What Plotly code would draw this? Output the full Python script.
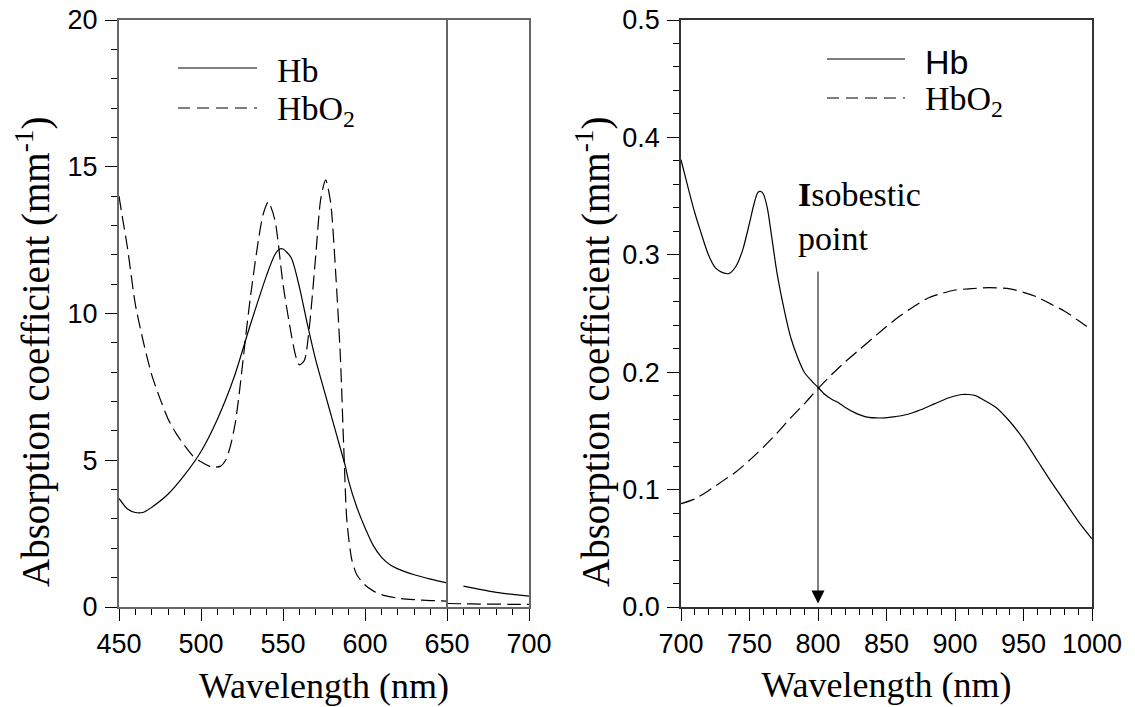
import plotly.graph_objects as go

# --- data ----------------------------------------------------------------
# left panel, visible range (solid Hb breaks at 650 nm)
hb_vis_nm = [450, 455, 460, 465, 470, 480, 490, 500, 510, 520, 530, 540, 545, 548,
             550, 555, 560, 565, 570, 575, 580, 585, 588, 590, 595, 600, 605, 610,
             615, 620, 630, 640, 650]
hb_vis = [3.7, 3.35, 3.22, 3.23, 3.4, 3.85, 4.5, 5.3, 6.4, 7.8, 9.6, 11.3, 12.0, 12.2,
          12.2, 11.9, 10.9, 9.6, 8.4, 7.4, 6.4, 5.4, 4.8, 4.3, 3.4, 2.7, 2.1, 1.7,
          1.45, 1.3, 1.1, 0.95, 0.82]
hb_red_nm = [660, 670, 680, 690, 700]
hb_red = [0.71, 0.6, 0.5, 0.43, 0.37]

hbo2_vis_nm = [450, 452, 455, 460, 465, 470, 475, 480, 485, 490, 495, 500, 505, 508,
               512, 515, 518, 521, 524, 527, 530, 535, 538, 541, 545, 550, 555, 558,
               560, 563, 566, 570, 573, 576, 579, 582, 585, 587, 589, 592, 595, 600,
               605, 610, 620, 630, 640, 650]
hbo2_vis = [14.0, 13.3, 12.3, 10.3, 9.0, 7.9, 7.1, 6.4, 5.9, 5.5, 5.15, 4.95, 4.8, 4.76,
            4.8, 5.0, 5.5, 6.3, 7.6, 9.1, 10.5, 12.5, 13.4, 13.8, 13.2, 11.0, 9.3, 8.5,
            8.25, 8.4, 9.5, 12.0, 13.9, 14.55, 13.8, 11.5, 8.5, 5.5, 2.9, 1.6, 1.1, 0.75,
            0.55, 0.42, 0.3, 0.25, 0.22, 0.2]
hbo2_red_nm = [650, 660, 670, 680, 690, 700]
hbo2_red = [0.12, 0.11, 0.1, 0.1, 0.09, 0.09]

# right panel, near infrared
hb_nir_nm = [700, 705, 710, 714, 720, 725, 730, 735, 740, 745, 750, 753, 756, 758, 760,
             763, 766, 770, 775, 780, 785, 790, 795, 800, 805, 810, 815, 820, 826, 835,
             845, 855, 865, 875, 885, 895, 905, 910, 915, 920, 930, 940, 950, 960, 970,
             980, 990, 1000]
hb_nir = [0.381, 0.358, 0.336, 0.321, 0.300, 0.289, 0.285, 0.284, 0.29, 0.304, 0.327,
          0.342, 0.353, 0.354, 0.352, 0.34, 0.317, 0.285, 0.255, 0.23, 0.213, 0.2, 0.193,
          0.187, 0.181, 0.177, 0.174, 0.17, 0.166, 0.162, 0.161, 0.162, 0.164, 0.168,
          0.173, 0.178, 0.181, 0.181, 0.18, 0.177, 0.17, 0.158, 0.143, 0.125, 0.107,
          0.09, 0.073, 0.058]

hbo2_nir_nm = [700, 710, 720, 730, 740, 750, 760, 770, 780, 790, 800, 810, 820, 830, 840,
               850, 860, 870, 880, 890, 900, 910, 925, 940, 950, 960, 970, 980, 990, 1000]
hbo2_nir = [0.088, 0.092, 0.099, 0.107, 0.115, 0.125, 0.136, 0.148, 0.161, 0.173, 0.186,
            0.198, 0.209, 0.219, 0.229, 0.239, 0.248, 0.256, 0.263, 0.267, 0.27, 0.271,
            0.272, 0.271, 0.268, 0.264, 0.258, 0.252, 0.244, 0.236]

isobestic_nm = 800
arrow_top = 0.287

SERIF = "Liberation Serif"
SANS = "Liberation Sans"
DASH = "14px,6px"

W, H = 1135, 707


def px(p):
    return p / W


def py(p):
    return (607 - p) / 587


fig = go.Figure()


def curve(x, y, dash, xa, ya):
    fig.add_trace(go.Scatter(
        x=x, y=y, mode="lines", xaxis=xa, yaxis=ya, showlegend=False,
        line=dict(color="black", width=1.2, dash=dash, shape="spline", smoothing=0.7),
    ))


curve(hb_vis_nm, hb_vis, "solid", "x", "y")
curve(hb_red_nm, hb_red, "solid", "x", "y")
curve(hbo2_vis_nm, hbo2_vis, DASH, "x", "y")
curve(hbo2_red_nm, hbo2_red, DASH, "x", "y")
curve(hb_nir_nm, hb_nir, "solid", "x2", "y2")
curve(hbo2_nir_nm, hbo2_nir, DASH, "x2", "y2")

axis_common = dict(
    showgrid=False, zeroline=False, showline=True, mirror=True, automargin=False,
    ticks="outside", ticklen=12, tickwidth=1, tickcolor="black",
    tickfont=dict(family=SANS, size=27, color="black"),
)
xtitle = dict(text="Wavelength (nm)", standoff=14,
              font=dict(family=SERIF, size=36, color="black"))

fig.update_layout(
    width=W, height=H,
    margin=dict(l=0, r=0, t=20, b=100),
    plot_bgcolor="white", paper_bgcolor="white",
    xaxis=dict(axis_common, domain=[px(119), px(529)], range=[450, 700],
               dtick=50, linecolor="#666666", linewidth=2, ticklabelstandoff=0,
               minor=dict(dtick=10, ticks="outside", ticklen=6, tickcolor="black"),
               title=xtitle),
    yaxis=dict(axis_common, anchor="x", range=[0, 20], dtick=5,
               linecolor="#666666", linewidth=2, ticklabelstandoff=2,
               minor=dict(dtick=1, ticks="outside", ticklen=6, tickcolor="black")),
    xaxis2=dict(axis_common, domain=[px(681), px(1092)], range=[700, 1000],
                anchor="y2", dtick=50, linecolor="#333333", linewidth=1.5,
                ticklabelstandoff=0,
                minor=dict(dtick=10, ticks="outside", ticklen=6, tickcolor="black"),
                title=xtitle),
    yaxis2=dict(axis_common, anchor="x2", range=[0, 0.5], dtick=0.1, tickformat=".1f",
                linecolor="#333333", linewidth=1.5, ticklabelstandoff=2,
                minor=dict(dtick=0.02, ticks="outside", ticklen=6, tickcolor="black")),
)

# spectral break at 650 nm
fig.add_shape(type="line", xref="x", yref="y domain", x0=650, x1=650, y0=0, y1=1,
              line=dict(color="#666666", width=2))

# y axis titles
ytitle = "Absorption coefficient (mm<sup>-1</sup>)"
for xp in (px(33), px(593)):
    fig.add_annotation(xref="paper", yref="paper", x=xp, y=py(352), text=ytitle,
                       textangle=-90, showarrow=False, xanchor="center", yanchor="middle",
                       font=dict(family=SERIF, size=39, color="black"))


# legends drawn as key lines plus labels
def legend_item(x0, x1, ypix, dash, label, font_family):
    fig.add_shape(type="line", xref="paper", yref="paper", x0=px(x0), x1=px(x1),
                  y0=py(ypix), y1=py(ypix), line=dict(color="black", width=1.2, dash=dash))
    fig.add_annotation(xref="paper", yref="paper", x=px(x1 + 18), y=py(ypix + 3),
                       text=label, showarrow=False, xanchor="left", yanchor="middle",
                       font=dict(family=font_family, size=34, color="black"))


legend_item(178, 257, 68, "solid", "Hb", SERIF)
legend_item(178, 257, 108, "12px,7px", "HbO<sub>2</sub>", SERIF)
legend_item(827, 905, 59, "solid", "Hb", SANS)
legend_item(827, 905, 98, "12px,7px", "HbO<sub>2</sub>", SERIF)

# isobestic point arrow and label
fig.add_annotation(xref="x2", yref="y2", axref="x2", ayref="y2",
                   x=isobestic_nm, y=0.003, ax=isobestic_nm, ay=arrow_top, text="",
                   showarrow=True, arrowhead=2, arrowsize=2.6, arrowwidth=1,
                   arrowcolor="black", standoff=0, startstandoff=0)
fig.add_annotation(xref="x2", yref="y2", x=784, y=0.333, text="<b>I</b>sobestic<br>point",
                   showarrow=False, xanchor="left", yanchor="middle", align="left",
                   font=dict(family=SERIF, size=34, color="black"))

# drop the default 8px page margin so the figure fills the window exactly
fig.write_html("out.html", config={"displayModeBar": False},
               post_script="document.body.style.margin='0';")
